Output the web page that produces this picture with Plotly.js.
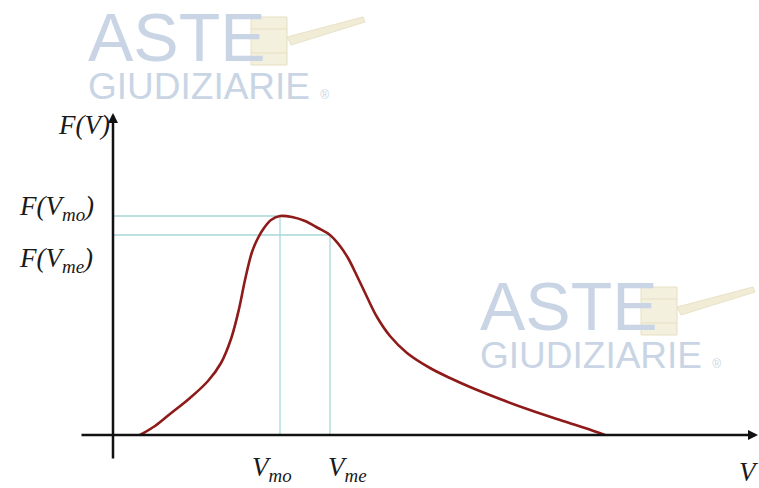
<!DOCTYPE html>
<html>
<head>
<meta charset="utf-8">
<script src="https://cdn.plot.ly/plotly-3.0.1.min.js"></script>
<style>html,body{margin:0;padding:0;background:#fff;}#chart{width:759px;height:488px;}</style>
</head>
<body>
<div id="chart"></div>
<script>
// Curve values (V, F(V))
const curveV = [27, 42, 57, 77, 95, 108, 118, 126, 132, 139, 145, 151, 158, 167, 179, 192, 205, 217, 227, 235, 244, 254, 264, 277, 294, 317, 337, 357, 387, 417, 447, 472, 492];
const curveF = [0, 9, 21, 37, 54, 72, 96, 126, 155, 183, 197, 207, 215, 219, 218, 214, 207, 200, 189, 177, 159, 138, 118, 99, 82, 67, 57, 48, 36, 25, 15, 7, 0];
// Mode and median
const vMo = 167, fMo = 219;
const vMe = 217, fMe = 200;
const labels = {fv: "F(V)", fmo: "F(V<sub>mo</sub>)", fme: "F(V<sub>me</sub>)", vmo: "V<sub>mo</sub>", vme: "V<sub>me</sub>", v: "V"};

const guide = '#a8d8d8';
const wmColor = '#c9d5e5';
const serif = 'Liberation Serif, Times New Roman, serif';
const sans = 'Liberation Sans, Arial, sans-serif';

const traces = [
  {x: [0, vMo, vMo], y: [fMo, fMo, 0], mode: 'lines', line: {color: guide, width: 1.3}, hoverinfo: 'skip'},
  {x: [0, vMe, vMe], y: [fMe, fMe, 0], mode: 'lines', line: {color: guide, width: 1.3}, hoverinfo: 'skip'},
  {x: curveV, y: curveF, mode: 'lines', line: {color: '#8e1a1a', width: 2.6, shape: 'spline', smoothing: 1}, hoverinfo: 'skip'}
];

function gavel(x0, yTop) {
  return [
    {type: 'path', xref: 'x', yref: 'y', path: `M ${x0+36} ${yTop-22} L ${x0+112} ${yTop-2} L ${x0+114} ${yTop-7} L ${x0+40} ${yTop-30} Z`, fillcolor: '#f1ecd6', line: {color: '#e8e2c6', width: 1}},
    {type: 'rect', xref: 'x', yref: 'y', x0: x0, y0: yTop - 50, x1: x0 + 36, y1: yTop - 2, fillcolor: '#f4f0de', line: {color: '#e6dfc2', width: 1}},
    {type: 'line', xref: 'x', yref: 'y', x0: x0, y0: yTop - 14, x1: x0 + 36, y1: yTop - 14, line: {color: '#e6dfc2', width: 1}},
    {type: 'line', xref: 'x', yref: 'y', x0: x0, y0: yTop - 38, x1: x0 + 36, y1: yTop - 38, line: {color: '#e6dfc2', width: 1}}
  ];
}

const shapes = [
  ...gavel(138, 420),
  ...gavel(528, 150)
];

const reg = '<span style="font-size:12px">®</span>';
const ann = [
  // watermarks
  {x: -27, y: 398, text: 'ASTE', showarrow: false, xanchor: 'left', yanchor: 'middle', font: {family: sans, size: 68, color: wmColor}},
  {x: -27, y: 349, text: 'GIUDIZIARIE ' + reg, showarrow: false, xanchor: 'left', yanchor: 'middle', font: {family: sans, size: 37, color: wmColor}},
  {x: 365, y: 129, text: 'ASTE', showarrow: false, xanchor: 'left', yanchor: 'middle', font: {family: sans, size: 68, color: wmColor}},
  {x: 365, y: 80, text: 'GIUDIZIARIE ' + reg, showarrow: false, xanchor: 'left', yanchor: 'middle', font: {family: sans, size: 37, color: wmColor}},
  // axes with arrows
  {x: 0, y: 322, ax: 0, ay: -25, axref: 'x', ayref: 'y', xref: 'x', yref: 'y', text: '', showarrow: true, arrowhead: 2, arrowsize: 0.8, arrowwidth: 2.5, arrowcolor: '#111'},
  {x: 645, y: 0, ax: -33, ay: 0, axref: 'x', ayref: 'y', xref: 'x', yref: 'y', text: '', showarrow: true, arrowhead: 2, arrowsize: 0.8, arrowwidth: 2.5, arrowcolor: '#111'},
  // labels
  {x: -1, y: 310, text: '<i>' + labels.fv + '</i>', showarrow: false, xanchor: 'right', font: {family: serif, size: 27, color: '#1a1a1a'}},
  {x: -57, y: 227, text: '<i>' + labels.fmo + '</i>', showarrow: false, xanchor: 'center', font: {family: serif, size: 27, color: '#1a1a1a'}},
  {x: -57, y: 175, text: '<i>' + labels.fme + '</i>', showarrow: false, xanchor: 'center', font: {family: serif, size: 27, color: '#1a1a1a'}},
  {x: 159, y: -34, text: '<i>' + labels.vmo + '</i>', showarrow: false, font: {family: serif, size: 27, color: '#1a1a1a'}},
  {x: 234, y: -34, text: '<i>' + labels.vme + '</i>', showarrow: false, font: {family: serif, size: 27, color: '#1a1a1a'}},
  {x: 636, y: -37, text: '<i>' + labels.v + '</i>', showarrow: false, font: {family: serif, size: 27, color: '#1a1a1a'}}
];

const layout = {
  width: 759, height: 488,
  margin: {l: 0, r: 0, t: 0, b: 0},
  paper_bgcolor: '#fff', plot_bgcolor: '#fff',
  showlegend: false,
  xaxis: {range: [-113, 646], visible: false, fixedrange: true},
  yaxis: {range: [-53, 435], visible: false, fixedrange: true},
  shapes: shapes,
  annotations: ann
};

Plotly.newPlot('chart', traces, layout, {displayModeBar: false, staticPlot: true});
</script>
</body>
</html>
